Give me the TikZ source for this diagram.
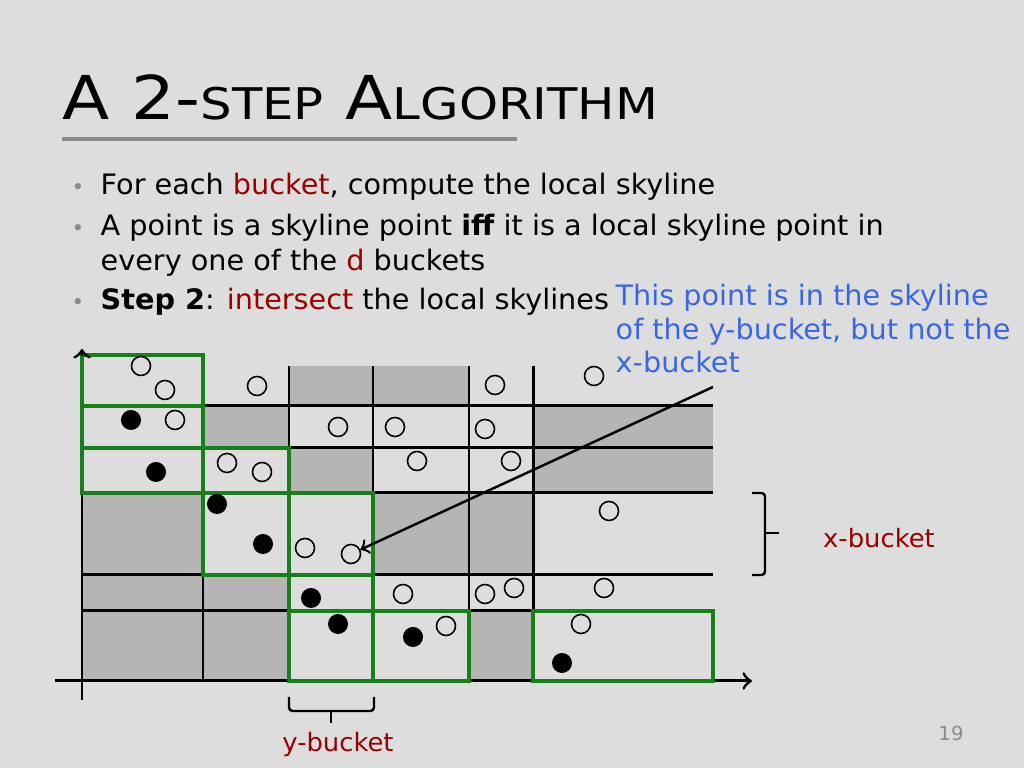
\documentclass[tikz,border=0pt]{standalone}
\usepackage{fontspec}
\setmainfont{DejaVu Sans}[FakeStretch=1.02]
\newfontfamily\titlefont{DejaVu Sans}[FakeStretch=1.14]
\usepackage{xcolor}
\usepackage{tikz}

\definecolor{slidebg}{HTML}{DDDDDD}
\definecolor{cellgray}{HTML}{B5B5B5}
\definecolor{bucketgreen}{HTML}{17801A}
\definecolor{darkred}{HTML}{990000}
\definecolor{noteblue}{HTML}{3A66E0}
\definecolor{bulletgray}{HTML}{8A8A8A}

\newcommand{\bodyfont}{\fontsize{8.0}{9}\selectfont}
\newcommand{\labelfont}{\fontsize{7.2}{8}\selectfont}

\begin{document}
\begin{tikzpicture}[x=0.01cm,y=-0.01cm,
            grid/.style = {line width=0.85pt},
            bucket/.style = {draw=bucketgreen, line width=0.9pt},
            pt/.style = {circle, draw, line width=0.45pt,
                        minimum size=0.19cm, inner sep=0pt},
            skypt/.style = {circle, fill=black,
                        minimum size=0.2cm, inner sep=0pt},
            txt/.style = {anchor=base west, inner sep=0pt, font=\bodyfont}]
            \fill[slidebg] (0,0) rectangle (1024,768);
            \useasboundingbox (0,0) rectangle (1024,768);

            % Title
            \node[anchor=base west, inner sep=0pt] (title) at (62,120)
                {\titlefont\fontsize{17.2}{20}\selectfont A 2-{\fontsize{12.4}{14}\selectfont STEP} A{\fontsize{12.4}{14}\selectfont LGORITHM}};
            \draw[bulletgray, line width=0.9pt] (62,139) -- (517,139);

            % Bullets
            \foreach \y in {195,236,310}
                \node[anchor=base, inner sep=0pt, text=bulletgray, font=\fontsize{6}{7}\selectfont] at (78,\y) {•};
            \node[txt] (b1) at (100,195) {For each \textcolor{darkred}{bucket}, compute the local skyline};
            \node[txt] (b2) at (100,236) {A point is a skyline point \textbf{iff} it is a local skyline point in};
            \node[txt] (b2b) at (100,271) {every one of the \textcolor{darkred}{d} buckets};
            \node[txt] (b3) at (100,310) {\textbf{Step 2}: \textcolor{darkred}{intersect} the local skylines};

            % Note
            \node[txt, text=noteblue] (n1) at (615,306) {This point is in the skyline};
            \node[txt, text=noteblue] (n2) at (615,340) {of the y-bucket, but not the};
            \node[txt, text=noteblue] (n3) at (615,373) {x-bucket};

            % Gray cells
            \fill[cellgray] (289,366) rectangle (469,406);
            \fill[cellgray] (203,406) rectangle (289,448);
            \fill[cellgray] (289,448) rectangle (373,493);
            \fill[cellgray] (533,406) rectangle (713,493);
            \fill[cellgray] (82,493) rectangle (203,575);
            \fill[cellgray] (373,493) rectangle (533,575);
            \fill[cellgray] (82,575) rectangle (289,681);
            \fill[cellgray] (469,611) rectangle (533,681);

            % Grid lines
            \foreach \y in {406,448,493,575}
                \draw[grid] (82,\y) -- (713,\y);
            \draw[grid] (82,611) -- (533,611);
            \draw[grid] (203,406) -- (203,681);
            \foreach \x in {289,373,469,533}
                \draw[grid] (\x,366) -- (\x,681);

            % Axes
            \draw[grid] (82,700) -- (82,355);
            \draw[grid, ->] (55,681) -- (752,681);

            % Buckets
            \draw[bucket] (82,355) rectangle (203,406);
            \draw[bucket] (82,406) rectangle (203,448);
            \draw[bucket] (82,448) rectangle (203,493);
            \draw[bucket] (203,448) rectangle (289,493);
            \draw[bucket] (203,493) rectangle (289,575);
            \draw[bucket] (289,493) rectangle (373,575);
            \draw[bucket] (289,575) rectangle (373,611);
            \draw[bucket] (289,611) rectangle (373,681);
            \draw[bucket] (373,611) rectangle (469,681);
            \draw[bucket] (533,611) rectangle (713,681);
            % y-axis tip on top
            \draw[grid, ->] (82,356) -- (82,349);

            % Points
            \node[pt] (p1) at (141,366) {};
            \node[pt] (p2) at (165,390) {};
            \node[pt] (p3) at (257,386) {};
            \node[pt] (p4) at (495,385) {};
            \node[pt] (p5) at (594,376) {};
            \node[pt] (p6) at (175,420) {};
            \node[pt] (p7) at (338,427) {};
            \node[pt] (p8) at (395,427) {};
            \node[pt] (p9) at (485,429) {};
            \node[pt] (p10) at (227,463) {};
            \node[pt] (p11) at (262,472) {};
            \node[pt] (p12) at (417,461) {};
            \node[pt] (p13) at (511,461) {};
            \node[pt] (p14) at (609,511) {};
            \node[pt] (p15) at (305,548) {};
            \node[pt] (tgt) at (351,554) {};
            \node[pt] (p16) at (403,594) {};
            \node[pt] (p17) at (485,594) {};
            \node[pt] (p18) at (514,588) {};
            \node[pt] (p19) at (604,588) {};
            \node[pt] (p20) at (446,626) {};
            \node[pt] (p21) at (581,624) {};
            % Skyline points
            \node[skypt] (s1) at (131,420) {};
            \node[skypt] (s2) at (156,472) {};
            \node[skypt] (s3) at (217,504) {};
            \node[skypt] (s4) at (263,544) {};
            \node[skypt] (s5) at (311,598) {};
            \node[skypt] (s6) at (338,624) {};
            \node[skypt] (s7) at (413,637) {};
            \node[skypt] (s8) at (562,663) {};

            % Arrow to the point
            \coordinate (from) at (713,387);
            \draw[line width=0.7pt, ->] (from) -- (tgt);

            % x-bucket brace
            \draw[line width=0.7pt, rounded corners=1pt] (752,493) -- (765,493) -- (765,575) -- (752,575);
            \draw[line width=0.7pt] (765,533) -- (779,533);
            \node[anchor=center, text=darkred, font=\labelfont] (xb) at (879,538) {x-bucket};

            % y-bucket brace
            \draw[line width=0.7pt, rounded corners=1pt] (289,697) -- (289,711) -- (374,711) -- (374,697);
            \draw[line width=0.7pt] (331,711) -- (331,723);
            \node[anchor=center, text=darkred, font=\labelfont] (yb) at (338,745) {y-bucket};

            % Page number
            \node[text=bulletgray, font=\fontsize{5.5}{6}\selectfont] (page) at (951,733) {19};
        \end{tikzpicture}
\end{document}
